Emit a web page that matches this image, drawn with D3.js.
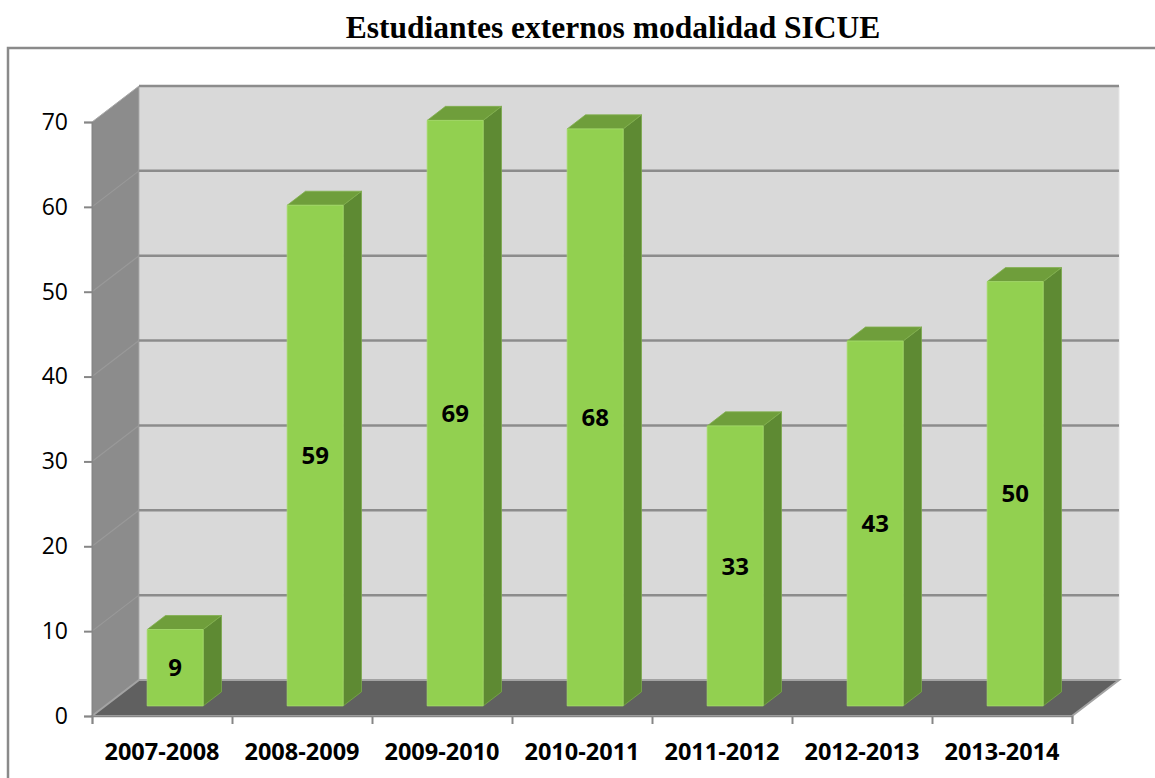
<!DOCTYPE html>
<html>
<head>
<meta charset="utf-8">
<script src="https://cdn.jsdelivr.net/npm/d3@7"></script>
<style>
  body { margin: 0; background: #fff; }
  svg { display: block; }
</style>
</head>
<body>
<div id="chart"></div>
<script>
var svgWidth = 1155;
var svgHeight = 778;

var title = "Estudiantes externos modalidad SICUE";
var categories = ["2007-2008", "2008-2009", "2009-2010", "2010-2011", "2011-2012", "2012-2013", "2013-2014"];
var values = [9, 59, 69, 68, 33, 43, 50];
var yTicks = [0, 10, 20, 30, 40, 50, 60, 70];

// floor / wall geometry
var plot = { left: 92, right: 1072, top: 122, bottom: 716 };
var depth = { dx: 47, dy: -36 };
var barDepth = [0.28, 0.67];

var svg = d3.select("#chart").append("svg")
  .attr("width", svgWidth)
  .attr("height", svgHeight);

var x = d3.scaleBand()
  .domain(categories)
  .range([plot.left, plot.right])
  .paddingInner(0.6)
  .paddingOuter(0.3);

var y = d3.scaleLinear()
  .domain([0, 70])
  .range([plot.bottom, plot.top]);

function proj(px, py, f) {
  return [px + depth.dx * f, py + depth.dy * f];
}
function pts(arr) {
  return arr.map(function(p) { return p.join(","); }).join(" ");
}

// outer frame
svg.append("rect")
  .attr("x", 8).attr("y", 48)
  .attr("width", 1160).attr("height", 760)
  .attr("fill", "none")
  .attr("stroke", "#8a8a8a")
  .attr("stroke-width", 2.5);

svg.append("text")
  .attr("x", 613).attr("y", 38)
  .attr("text-anchor", "middle")
  .attr("font-family", "Liberation Serif, Times New Roman, serif")
  .attr("font-weight", "bold")
  .attr("font-size", 31.5)
  .text(title);

var y0 = y(0), y70 = y(70);

// back wall
svg.append("polygon")
  .attr("points", pts([proj(plot.left, y70, 1), proj(plot.right, y70, 1), proj(plot.right, y0, 1), proj(plot.left, y0, 1)]))
  .attr("fill", "#d9d9d9")
  .attr("stroke", "#e6e6e6");

// side wall
svg.append("polygon")
  .attr("points", pts([[plot.left, y70], proj(plot.left, y70, 1), proj(plot.left, y0, 1), [plot.left, y0]]))
  .attr("fill", "#8c8c8c")
  .attr("stroke", "#a9a9a9")
  .attr("stroke-width", 1);

// gridlines on back wall and side wall
svg.append("g").selectAll("line.back")
  .data(yTicks.slice(1))
  .enter().append("line")
  .attr("x1", proj(plot.left, 0, 1)[0])
  .attr("x2", proj(plot.right, 0, 1)[0])
  .attr("y1", d => proj(0, y(d), 1)[1])
  .attr("y2", d => proj(0, y(d), 1)[1])
  .attr("stroke", "#8c8c8c")
  .attr("stroke-width", 2.5);

svg.append("g").selectAll("line.side")
  .data(yTicks.slice(1, -1))
  .enter().append("line")
  .attr("x1", plot.left)
  .attr("y1", d => y(d))
  .attr("x2", d => proj(plot.left, y(d), 1)[0])
  .attr("y2", d => proj(plot.left, y(d), 1)[1])
  .attr("stroke", "#999")
  .attr("stroke-width", 1.2);

// floor
svg.append("polygon")
  .attr("points", pts([[plot.left, y0], proj(plot.left, y0, 1), proj(plot.right, y0, 1), [plot.right, y0]]))
  .attr("fill", "#606060")
  .attr("stroke", "#a3a3a3")
  .attr("stroke-width", 2);

// bars
var bars = svg.append("g").selectAll("g.bar")
  .data(values)
  .enter().append("g");

function faces(d, i) {
  var x0 = x(categories[i]), x1 = x0 + x.bandwidth();
  var yt = y(d), yb = y(0);
  var f0 = barDepth[0], f1 = barDepth[1];
  return {
    front: [proj(x0, yt, f0), proj(x1, yt, f0), proj(x1, yb, f0), proj(x0, yb, f0)],
    side: [proj(x1, yt, f0), proj(x1, yt, f1), proj(x1, yb, f1), proj(x1, yb, f0)],
    top: [proj(x0, yt, f0), proj(x0, yt, f1), proj(x1, yt, f1), proj(x1, yt, f0)]
  };
}

bars.append("polygon")
  .attr("points", (d, i) => pts(faces(d, i).side))
  .attr("fill", "#5e8a33")
  .attr("stroke", "#7aa84a").attr("stroke-width", 0.8);
bars.append("polygon")
  .attr("points", (d, i) => pts(faces(d, i).top))
  .attr("fill", "#6f9e3b")
  .attr("stroke", "#82b04e").attr("stroke-width", 0.8);
bars.append("polygon")
  .attr("points", (d, i) => pts(faces(d, i).front))
  .attr("fill", "#92d050")
  .attr("stroke", "#a6dc6c").attr("stroke-width", 0.8);

bars.append("text")
  .attr("x", (d, i) => proj(x(categories[i]) + x.bandwidth() / 2, 0, barDepth[0])[0])
  .attr("y", d => proj(0, (y(d) + y(0)) / 2, barDepth[0])[1])
  .attr("dy", "0.36em")
  .attr("text-anchor", "middle")
  .attr("font-family", "Open Sans, sans-serif")
  .attr("font-weight", "bold")
  .attr("font-size", 24)
  .text(d => d);

// axes
var leftAxis = d3.axisLeft(y).tickValues(yTicks).tickSize(8).tickPadding(16);
var yAxis = svg.append("g")
  .attr("transform", `translate(${plot.left}, 0)`)
  .call(leftAxis);
yAxis.select(".domain").attr("stroke", "#868686").attr("stroke-width", 1.5);
yAxis.selectAll(".tick line").attr("stroke", "#868686").attr("stroke-width", 2);
yAxis.selectAll(".tick text")
  .attr("font-family", "Open Sans, sans-serif")
  .attr("font-size", 23)
  .attr("fill", "#000");

var edges = d3.scaleLinear().domain([0, categories.length]).range([plot.left, plot.right]);
var bottomAxis = d3.axisBottom(edges).tickValues(d3.range(categories.length + 1)).tickSize(8).tickFormat("");
var xAxis = svg.append("g")
  .attr("transform", `translate(0, ${plot.bottom})`)
  .call(bottomAxis);
xAxis.select(".domain").attr("stroke", "#868686").attr("stroke-width", 1.5);
xAxis.selectAll(".tick line").attr("stroke", "#868686").attr("stroke-width", 2);

svg.append("g").selectAll("text.cat")
  .data(categories)
  .enter().append("text")
  .attr("x", d => x(d) + x.bandwidth() / 2)
  .attr("y", 760)
  .attr("text-anchor", "middle")
  .attr("font-family", "Open Sans, sans-serif")
  .attr("font-weight", "bold")
  .attr("font-size", 23.5)
  .text(d => d);
</script>
</body>
</html>
